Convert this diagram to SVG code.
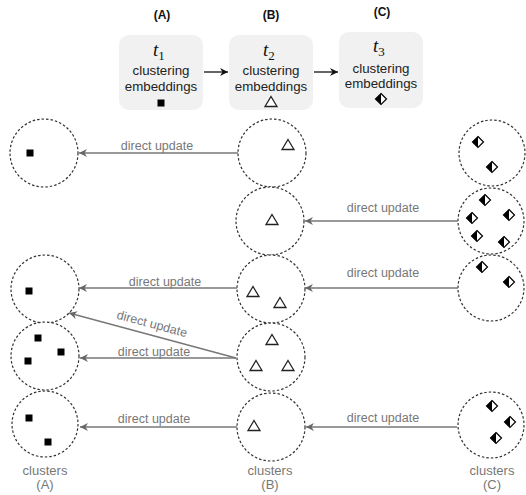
<svg xmlns="http://www.w3.org/2000/svg" width="526" height="495" viewBox="0 0 526 495">
<style>
text{font-family:"Liberation Sans",Arial,Helvetica,sans-serif}
.hd{font-size:12px;font-weight:bold;fill:#111;text-anchor:middle}
.box{fill:#f1f1f1}
.bt{font-size:13.3px;fill:#222;text-anchor:middle}
.tv{font-family:"Liberation Serif","Times New Roman",serif;font-style:italic;font-size:19px;fill:#111}
.sub{font-family:"Liberation Serif","Times New Roman",serif;font-style:normal;font-size:13px;fill:#111}
.cl{fill:#fff;stroke:#333;stroke-width:1.2;stroke-dasharray:2.5 2}
.lbl{font-size:12.5px;fill:#777;text-anchor:middle}
.ft{font-size:13px;fill:#777;text-anchor:middle}
.con{stroke:#777;stroke-width:1.3;fill:none;marker-end:url(#ah)}
.hc{stroke:#111;stroke-width:1.3;fill:none;marker-end:url(#ahk)}
.sq{fill:#000}
.tri{fill:#fff;stroke:#222;stroke-width:1.3}
</style>
<defs>
<marker id="ah" markerUnits="userSpaceOnUse" markerWidth="10" markerHeight="8" refX="8" refY="4" orient="auto">
<path d="M0,0 L8,4 L0,8 L2.5,4 z" fill="#666"/>
</marker>
<marker id="ahk" markerUnits="userSpaceOnUse" markerWidth="10" markerHeight="8" refX="8" refY="4" orient="auto">
<path d="M0,0 L8,4 L0,8 L2.5,4 z" fill="#111"/>
</marker>
<rect id="s" x="-3.5" y="-3.5" width="7" height="7" class="sq"/>
<path id="t" d="M0,-5.5 L6,4.5 L-6,4.5 z" class="tri"/>
<g id="d">
<path d="M0,-5.5 L5.5,0 L0,5.5 L-5.5,0 z" fill="#fff" stroke="#000" stroke-width="1.2"/>
<path d="M0,-5.5 L0,5.5 L-5.5,0 z" fill="#000"/>
</g>
</defs>

<g id="header-A">
<text class="hd" x="162" y="19">(A)</text>
<rect class="box" x="119" y="35" width="84" height="75" rx="10"/>
<text class="tv" x="153" y="56">t<tspan class="sub" dy="4">1</tspan></text>
<text class="bt" x="161" y="75">clustering</text>
<text class="bt" x="161" y="91">embeddings</text>
<use href="#s" x="161" y="103"/>
</g>
<g id="header-B">
<text class="hd" x="271" y="19">(B)</text>
<rect class="box" x="229" y="35" width="84" height="75" rx="10"/>
<text class="tv" x="263" y="56">t<tspan class="sub" dy="4">2</tspan></text>
<text class="bt" x="271" y="75">clustering</text>
<text class="bt" x="271" y="91">embeddings</text>
<use href="#t" x="271" y="102"/>
</g>
<g id="header-C">
<text class="hd" x="382" y="16">(C)</text>
<rect class="box" x="339" y="32" width="84" height="76" rx="10"/>
<text class="tv" x="373" y="52">t<tspan class="sub" dy="4">3</tspan></text>
<text class="bt" x="381" y="73">clustering</text>
<text class="bt" x="381" y="88">embeddings</text>
<use href="#d" x="381" y="99"/>
</g>

<g id="clusters-A">
<circle class="cl" cx="44" cy="153" r="34"/>
<use href="#s" x="30" y="153"/>
<circle class="cl" cx="45" cy="289" r="34"/>
<use href="#s" x="29" y="291"/>
<circle class="cl" cx="45" cy="356" r="34"/>
<use href="#s" x="38" y="338"/>
<use href="#s" x="61" y="352"/>
<use href="#s" x="28" y="361"/>
<circle class="cl" cx="45" cy="424" r="33"/>
<use href="#s" x="29" y="418"/>
<use href="#s" x="48" y="442"/>
<text class="ft" x="45" y="475">clusters</text>
<text class="ft" x="45" y="489">(A)</text>
</g>

<g id="clusters-B">
<circle class="cl" cx="272" cy="153" r="34"/>
<use href="#t" x="288" y="145"/>
<circle class="cl" cx="270" cy="221" r="34"/>
<use href="#t" x="272" y="220"/>
<circle class="cl" cx="271" cy="289" r="34"/>
<use href="#t" x="253" y="292"/>
<use href="#t" x="280" y="303"/>
<circle class="cl" cx="271" cy="357" r="34"/>
<use href="#t" x="272" y="340"/>
<use href="#t" x="256" y="366"/>
<use href="#t" x="288" y="366"/>
<circle class="cl" cx="271" cy="427" r="34"/>
<use href="#t" x="254" y="426"/>
<text class="ft" x="270" y="475">clusters</text>
<text class="ft" x="270" y="489">(B)</text>
</g>

<g id="clusters-C">
<circle class="cl" cx="492" cy="153" r="33"/>
<use href="#d" x="478" y="142"/>
<use href="#d" x="492" y="167"/>
<circle class="cl" cx="491" cy="221" r="33"/>
<use href="#d" x="485" y="200"/>
<use href="#d" x="472" y="218"/>
<use href="#d" x="509" y="215"/>
<use href="#d" x="477" y="236"/>
<use href="#d" x="504" y="242"/>
<circle class="cl" cx="491" cy="288" r="33"/>
<use href="#d" x="482" y="267"/>
<use href="#d" x="509" y="282"/>
<circle class="cl" cx="491" cy="425" r="33"/>
<use href="#d" x="492" y="406"/>
<use href="#d" x="510" y="422"/>
<use href="#d" x="496" y="438"/>
<text class="ft" x="492" y="475">clusters</text>
<text class="ft" x="492" y="489">(C)</text>
</g>

<g id="connectors">
<line class="hc" x1="204" y1="72" x2="228" y2="72"/>
<line class="hc" x1="314" y1="72" x2="338" y2="72"/>
<line class="con" x1="238" y1="153" x2="79" y2="153"/>
<text class="lbl" x="157" y="150">direct update</text>
<line class="con" x1="458" y1="221" x2="305" y2="221"/>
<text class="lbl" x="383" y="212">direct update</text>
<line class="con" x1="458" y1="288" x2="305" y2="288"/>
<text class="lbl" x="383" y="277">direct update</text>
<line class="con" x1="237" y1="288" x2="79" y2="288"/>
<text class="lbl" x="165" y="286">direct update</text>
<line class="con" x1="236" y1="358" x2="69" y2="313"/>
<text class="lbl" x="152" y="328" transform="rotate(15 152 324)">direct update</text>
<line class="con" x1="236" y1="358" x2="80" y2="358"/>
<text class="lbl" x="154" y="356">direct update</text>
<line class="con" x1="237" y1="427" x2="80" y2="427"/>
<text class="lbl" x="154" y="423">direct update</text>
<line class="con" x1="457" y1="427" x2="306" y2="427"/>
<text class="lbl" x="383" y="422">direct update</text>
</g>
</svg>
